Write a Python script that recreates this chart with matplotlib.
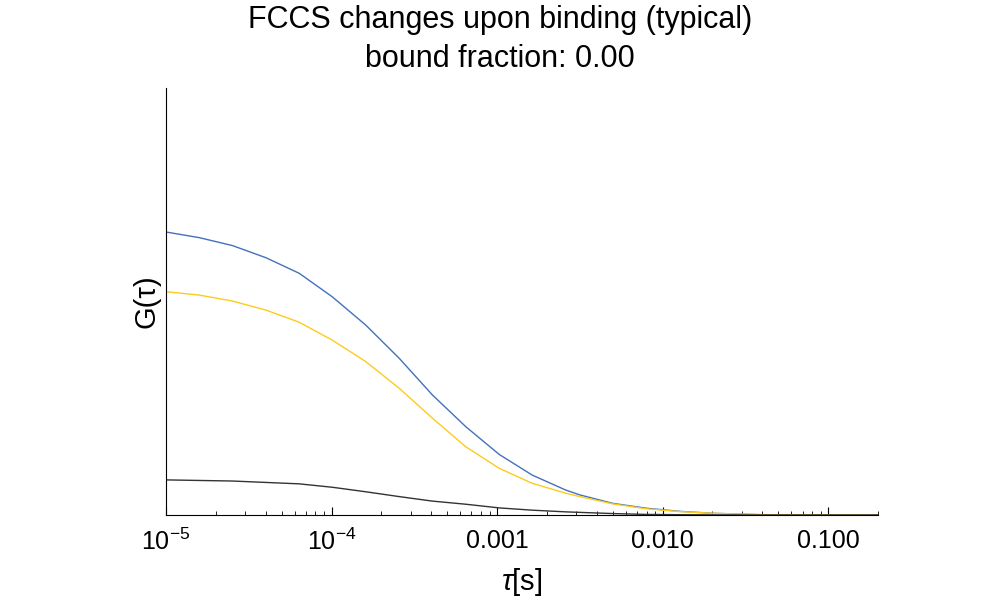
import matplotlib.pyplot as plt
from matplotlib.ticker import FixedLocator, FixedFormatter, LogLocator, NullFormatter

plt.rcParams['font.family'] = ['Liberation Sans', 'DejaVu Sans']
plt.rcParams['mathtext.fontset'] = 'custom'
plt.rcParams['mathtext.rm'] = 'Liberation Sans'
plt.rcParams['mathtext.it'] = 'Liberation Sans:italic'

# values (G in arbitrary units, blue at 1e-5 = 1)
tau = [1e-5, 1.59e-5, 2.52e-5, 4.02e-5, 6.38e-5, 1.01e-4, 1.61e-4, 2.56e-4,
       4.07e-4, 6.47e-4, 1.03e-3, 1.63e-3, 2.60e-3, 3.16e-3, 5.01e-3, 7.96e-3,
       1.26e-2, 2.01e-2, 0.04, 0.2]
g_blue = [1.000, 0.980, 0.952, 0.909, 0.854, 0.771, 0.671, 0.554,
          0.424, 0.312, 0.214, 0.141, 0.088, 0.071, 0.041, 0.024,
          0.013, 0.006, 0.001, 0.0]
g_yellow = [0.789, 0.777, 0.756, 0.724, 0.681, 0.618, 0.542, 0.448,
            0.342, 0.241, 0.165, 0.112, 0.077, 0.065, 0.039, 0.022,
            0.012, 0.006, 0.001, 0.0]

tau_black = [1e-5, 2.52e-5, 6.38e-5, 1.01e-4, 1.61e-4, 2.56e-4, 4.07e-4, 6.47e-4,
             1.03e-3, 1.63e-3, 2.60e-3, 5.01e-3, 7.96e-3, 1.26e-2, 0.03, 0.2]
g_black = [0.124, 0.120, 0.110, 0.098, 0.082, 0.065, 0.049, 0.038,
           0.025, 0.017, 0.011, 0.005, 0.002, 0.001, 0.0, 0.0]

xticks = [1e-5, 1e-4, 1e-3, 1e-2, 1e-1]
xticklabels = ['$10^{-5}$', '$10^{-4}$', '0.001', '0.010', '0.100']

fig = plt.figure(figsize=(10, 6), dpi=100)
ax = fig.add_axes([0.166, 0.1417, 0.712, 0.7117])

ax.plot(tau, g_blue, color='#4470BE', lw=1.0)
ax.plot(tau, g_yellow, color='#FDCB1E', lw=1.0)
ax.plot(tau_black, g_black, color='#333333', lw=1.0)

ax.set_xscale('log')
ax.set_xlim(1e-5, 0.2)
ax.set_ylim(0, 1.509)

ax.xaxis.set_major_locator(FixedLocator(xticks))
ax.xaxis.set_major_formatter(FixedFormatter(xticklabels))
ax.xaxis.set_minor_locator(LogLocator(base=10, subs=range(2, 10), numticks=20))
ax.xaxis.set_minor_formatter(NullFormatter())
ax.tick_params(axis='x', which='major', direction='in', length=6, width=0.8,
               labelsize=18, pad=10)
ax.tick_params(axis='x', which='minor', direction='in', length=3, width=0.6)
ax.set_yticks([])

for s in ['top', 'right']:
    ax.spines[s].set_visible(False)

ax.set_xlabel(r'$\tau$[s]', fontsize=21, labelpad=8)
ax.set_ylabel('G(τ)', fontsize=21, labelpad=4)

fig.text(0.5, 0.966, 'FCCS changes upon binding (typical)', ha='center', va='center', fontsize=22)
fig.text(0.5, 0.902, 'bound fraction: 0.00', ha='center', va='center', fontsize=22)

fig.savefig('out.png', dpi=100)
